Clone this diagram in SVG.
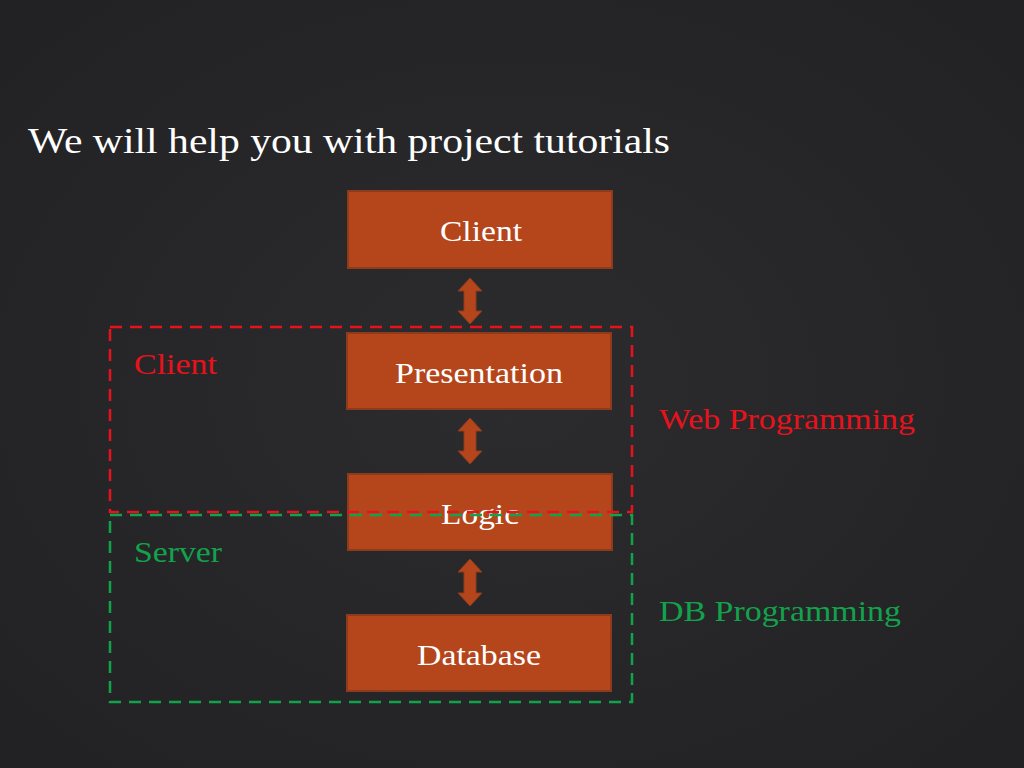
<svg xmlns="http://www.w3.org/2000/svg" width="1024" height="768" viewBox="0 0 1024 768">
<defs>
<style>
.box{fill:#B5461C;stroke:#8E3A1C;stroke-width:2}
.bt{font-family:"Liberation Serif",serif;font-size:30px;fill:#fff}
.arr{fill:#B5461C;stroke:#8E3A1C;stroke-width:1}
.lbl{font-family:"Liberation Serif",serif;font-size:30px}
</style>
<radialGradient id="bg" cx="0.5" cy="0.5" r="0.8"><stop offset="0" stop-color="#2c2c2e"/><stop offset="1" stop-color="#202022"/></radialGradient>
</defs>
<rect width="1024" height="768" fill="url(#bg)"/>
<text x="28" y="153" textLength="642" lengthAdjust="spacingAndGlyphs" style="font-family:'Liberation Serif',serif;font-size:36px;fill:#fff">We will help you with project tutorials</text>
<g id="client"><rect class="box" x="348" y="191" width="264" height="77"/><text class="bt" x="440" y="241" textLength="82" lengthAdjust="spacingAndGlyphs">Client</text></g>
<g id="presentation"><rect class="box" x="347" y="333" width="264" height="76"/><text class="bt" x="395" y="383" textLength="168" lengthAdjust="spacingAndGlyphs">Presentation</text></g>
<g id="logic"><rect class="box" x="348" y="474" width="264" height="76"/><text class="bt" x="441" y="524" textLength="78" lengthAdjust="spacingAndGlyphs">Logic</text></g>
<g id="database"><rect class="box" x="347" y="615" width="264" height="76"/><text class="bt" x="417" y="665" textLength="124" lengthAdjust="spacingAndGlyphs">Database</text></g>
<g id="connectors">
<path class="arr" d="M470,278 L482,291 L476,291 L476,311 L482,311 L470,324 L458,311 L464,311 L464,291 L458,291 Z"/>
<path class="arr" d="M470,418 L482,431 L476,431 L476,451 L482,451 L470,464 L458,451 L464,451 L464,431 L458,431 Z"/>
<path class="arr" d="M470,559 L482,572 L476,572 L476,593 L482,593 L470,606 L458,593 L464,593 L464,572 L458,572 Z"/>
</g>
<g id="web-group">
<rect x="110" y="327" width="522" height="185" fill="none" stroke="#E8121C" stroke-width="2.5" stroke-dasharray="12,8"/>
<text class="lbl" x="134" y="374" fill="#E8121C" textLength="83" lengthAdjust="spacingAndGlyphs">Client</text>
<text class="lbl" x="659" y="429" fill="#E8121C" textLength="256" lengthAdjust="spacingAndGlyphs">Web Programming</text>
</g>
<g id="db-group">
<rect x="110" y="515" width="522" height="187" fill="none" stroke="#13A24C" stroke-width="2.5" stroke-dasharray="12,8"/>
<text class="lbl" x="134" y="562" fill="#13A24C" textLength="88" lengthAdjust="spacingAndGlyphs">Server</text>
<text class="lbl" x="659" y="621" fill="#13A24C" textLength="242" lengthAdjust="spacingAndGlyphs">DB Programming</text>
</g>
</svg>
